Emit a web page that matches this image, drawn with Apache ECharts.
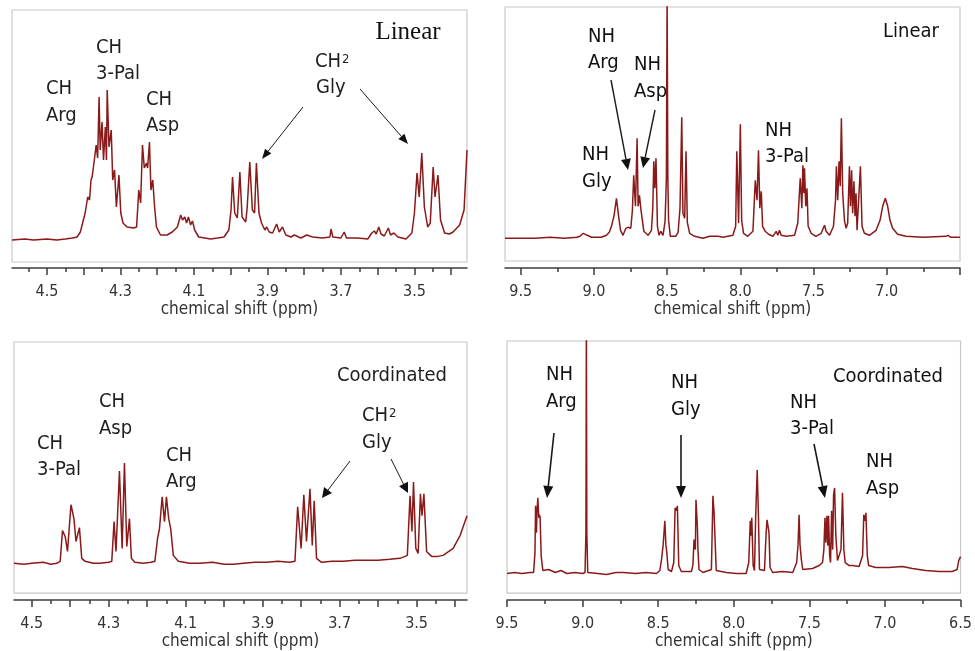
<!DOCTYPE html>
<html><head><meta charset="utf-8">
<script src="https://cdn.jsdelivr.net/npm/echarts@6/dist/echarts.min.js"></script>
<style>html,body{margin:0;padding:0;background:#fff}#c{width:975px;height:651px}</style>
</head><body><div id="c"></div>
<script>
// ---------- DATA (ppm, intensity) ----------
const linearCH = [[4.595,0],[4.560,1],[4.536,0],[4.500,1],[4.473,0],[4.450,1],[4.430,2],[4.418,3],[4.409,8],[4.396,27],[4.389,43],[4.384,40],[4.380,60],[4.377,63],[4.371,80],[4.366,95],[4.362,82],[4.358,143],[4.355,90],[4.350,118],[4.346,80],[4.341,113],[4.338,80],[4.336,150],[4.331,93],[4.325,110],[4.321,60],[4.316,70],[4.311,33],[4.304,65],[4.299,27],[4.293,17],[4.282,13],[4.264,12],[4.256,13],[4.250,50],[4.245,37],[4.240,95],[4.235,72],[4.229,77],[4.226,72],[4.221,98],[4.217,50],[4.212,60],[4.207,33],[4.202,13],[4.191,5],[4.173,5],[4.159,8],[4.145,13],[4.136,25],[4.131,20],[4.125,23],[4.120,17],[4.115,23],[4.109,15],[4.104,19],[4.098,10],[4.087,3],[4.070,2],[4.055,1],[4.035,2],[4.018,3],[4.005,10],[3.999,30],[3.995,63],[3.989,27],[3.982,22],[3.975,68],[3.969,23],[3.959,18],[3.955,33],[3.948,78],[3.941,30],[3.935,27],[3.930,77],[3.923,27],[3.916,17],[3.907,10],[3.902,13],[3.895,8],[3.886,7],[3.875,16],[3.868,8],[3.859,13],[3.850,5],[3.836,3],[3.827,5],[3.809,2],[3.793,5],[3.777,3],[3.750,2],[3.730,3],[3.727,11],[3.722,3],[3.700,2],[3.691,8],[3.685,2],[3.655,2],[3.627,1],[3.616,7],[3.609,9],[3.604,6],[3.597,13],[3.591,6],[3.582,4],[3.571,12],[3.565,5],[3.556,7],[3.545,3],[3.523,1],[3.507,7],[3.500,27],[3.493,67],[3.487,43],[3.480,87],[3.473,33],[3.464,13],[3.457,17],[3.449,73],[3.444,43],[3.436,65],[3.429,20],[3.418,7],[3.405,6],[3.395,8],[3.377,15],[3.365,30],[3.357,90]];

const linearNH = [[9.607,0],[9.40,0],[9.30,1],[9.20,0],[9.118,1],[9.095,2],[9.073,5],[9.045,3],[9.016,1],[8.95,1],[8.914,3],[8.895,6],[8.880,12],[8.862,23],[8.846,40],[8.832,23],[8.818,8],[8.801,3],[8.782,10],[8.775,8],[8.768,11],[8.760,12],[8.748,10],[8.737,28],[8.728,63],[8.716,32],[8.705,100],[8.698,32],[8.689,43],[8.678,28],[8.659,7],[8.630,3],[8.607,8],[8.598,30],[8.591,77],[8.584,50],[8.576,80],[8.566,12],[8.555,3],[8.543,7],[8.528,3],[8.514,17],[8.505,60],[8.500,245],[8.495,60],[8.490,18],[8.478,2],[8.441,2],[8.425,6],[8.412,30],[8.400,121],[8.392,25],[8.380,20],[8.371,87],[8.362,16],[8.346,5],[8.312,2],[8.255,0],[8.209,2],[8.152,2],[8.141,3],[8.118,1],[8.051,3],[8.032,12],[8.024,87],[8.012,15],[8.000,114],[7.991,18],[7.978,5],[7.949,2],[7.914,7],[7.898,58],[7.886,38],[7.876,88],[7.867,30],[7.857,47],[7.848,12],[7.830,7],[7.819,8],[7.807,4],[7.794,5],[7.778,2],[7.755,7],[7.744,3],[7.733,8],[7.721,3],[7.687,2],[7.630,3],[7.608,15],[7.591,60],[7.580,30],[7.573,73],[7.566,45],[7.562,70],[7.553,32],[7.545,50],[7.537,12],[7.516,5],[7.484,2],[7.448,5],[7.425,13],[7.414,7],[7.391,3],[7.364,12],[7.350,38],[7.344,72],[7.335,38],[7.326,77],[7.318,52],[7.310,120],[7.301,45],[7.289,18],[7.278,10],[7.267,15],[7.255,72],[7.248,32],[7.240,68],[7.233,25],[7.224,57],[7.217,22],[7.210,45],[7.203,8],[7.192,7],[7.180,72],[7.169,12],[7.153,5],[7.119,3],[7.073,8],[7.046,18],[7.028,32],[7.010,40],[6.994,32],[6.978,18],[6.960,10],[6.926,4],[6.869,2],[6.75,1],[6.596,2],[6.582,3],[6.562,1],[6.5,1]];

const coordCH = [[4.546,0],[4.52,-1],[4.50,0],[4.47,1],[4.45,-1],[4.435,0],[4.426,2],[4.420,33],[4.413,27],[4.407,12],[4.398,59],[4.394,52],[4.390,44],[4.385,22],[4.376,36],[4.370,5],[4.361,2],[4.34,0],[4.323,0],[4.30,1],[4.292,2],[4.286,42],[4.281,12],[4.272,93],[4.265,15],[4.259,101],[4.253,17],[4.246,45],[4.241,5],[4.232,1],[4.21,0],[4.19,1],[4.180,2],[4.173,25],[4.168,35],[4.161,67],[4.155,42],[4.150,67],[4.144,45],[4.139,35],[4.132,8],[4.119,2],[4.09,0],[4.063,0],[4.03,1],[4.00,-1],[3.976,-1],[3.95,0],[3.92,1],[3.890,1],[3.86,2],[3.83,1],[3.816,2],[3.809,57],[3.800,15],[3.793,69],[3.786,22],[3.777,75],[3.771,18],[3.766,63],[3.760,5],[3.747,1],[3.72,2],[3.69,2],[3.66,3],[3.630,3],[3.60,3],[3.57,4],[3.543,5],[3.530,7],[3.524,8],[3.517,68],[3.512,32],[3.508,82],[3.502,15],[3.496,10],[3.490,70],[3.486,48],[3.481,70],[3.474,12],[3.461,7],[3.445,7],[3.431,8],[3.405,15],[3.387,28],[3.369,48]];

const coordNH = [[9.5,-1],[9.45,0],[9.40,-1],[9.35,0],[9.324,0],[9.315,20],[9.311,67],[9.305,40],[9.302,60],[9.296,75],[9.290,55],[9.285,58],[9.281,55],[9.274,17],[9.263,2],[9.225,3],[9.214,1],[9.18,0],[9.144,2],[9.104,-1],[9.05,0],[9.00,-1],[8.984,0],[8.978,40],[8.975,255],[8.972,40],[8.966,0],[8.90,-1],[8.841,-2],[8.78,0],[8.731,0],[8.65,-1],[8.58,0],[8.511,-1],[8.489,2],[8.478,13],[8.467,28],[8.456,52],[8.449,28],[8.443,20],[8.434,3],[8.412,1],[8.397,10],[8.388,65],[8.379,62],[8.373,67],[8.364,7],[8.347,1],[8.280,1],[8.270,8],[8.263,33],[8.254,23],[8.250,73],[8.241,47],[8.237,23],[8.230,3],[8.204,0],[8.148,3],[8.138,77],[8.131,62],[8.125,63],[8.116,2],[8.050,0],[7.98,-1],[7.918,-1],[7.901,10],[7.891,52],[7.885,37],[7.881,55],[7.872,7],[7.863,2],[7.855,57],[7.845,103],[7.837,57],[7.830,3],[7.797,2],[7.786,40],[7.780,53],[7.773,55],[7.767,40],[7.760,5],[7.743,0],[7.68,1],[7.610,0],[7.584,10],[7.575,28],[7.568,58],[7.562,28],[7.553,13],[7.544,3],[7.479,4],[7.435,7],[7.413,10],[7.404,23],[7.397,55],[7.391,30],[7.384,57],[7.378,27],[7.373,57],[7.366,17],[7.360,10],[7.353,62],[7.346,23],[7.340,78],[7.333,85],[7.325,37],[7.314,12],[7.302,10],[7.291,23],[7.281,80],[7.272,23],[7.263,10],[7.237,7],[7.215,7],[7.171,6],[7.159,7],[7.148,17],[7.140,58],[7.133,52],[7.126,60],[7.117,17],[7.108,7],[7.061,5],[6.973,5],[6.885,6],[6.819,4],[6.731,2],[6.643,1],[6.556,1],[6.523,3],[6.512,12],[6.5,16]];

// ---------- TICKS ----------
const ticksMajorCH = [4.5,4.4,4.3,4.2,4.1,4.0,3.9,3.8,3.7,3.6,3.5,3.4];
const ticksMinorCH = [4.55,4.45,4.35,4.25,4.15,4.05,3.95,3.85,3.75,3.65,3.55,3.45];
const labelsCH = [4.5,4.3,4.1,3.9,3.7,3.5];
const ticksMajorNH = [9.5,9.0,8.5,8.0,7.5,7.0,6.5];
const ticksMinorNH = [9.25,8.75,8.25,7.75,7.25,6.75];
const labelsNHLinear = [9.5,9.0,8.5,8.0,7.5,7.0];
const labelsNHCoord = [9.5,9.0,8.5,8.0,7.5,7.0,6.5];

const FONT = "'DejaVu Sans Condensed','DejaVu Sans',sans-serif";
const LINE = '#8a1a1a';
const AX = '#3c3c3c';

// panel layout: grid rect + axis range + y range
const panels = [
  {grid:{left:12,top:10,width:455,height:252}, min:3.357, max:4.595, ymin:-22, ymax:230, major:ticksMajorCH, minor:ticksMinorCH, labels:labelsCH, data:linearCH, offset:6},
  {grid:{left:505,top:7,width:455,height:254}, min:6.5, max:9.607, ymin:-22.7, ymax:231.3, major:ticksMajorNH, minor:ticksMinorNH, labels:labelsNHLinear, data:linearNH, offset:7},
  {grid:{left:14,top:342,width:453,height:253}, min:3.369, max:4.546, ymin:-30, ymax:223, major:ticksMajorCH, minor:ticksMinorCH, labels:labelsCH, data:coordCH, offset:7},
  {grid:{left:507,top:341,width:455,height:253}, min:6.5, max:9.5, ymin:-20.7, ymax:232.6, major:ticksMajorNH, minor:ticksMinorNH, labels:labelsNHCoord, data:coordNH, offset:7}
];

const grids = [], xAxes = [], yAxes = [], series = [];
panels.forEach((p, i) => {
  const inR = v => v >= p.min - 1e-9 && v <= p.max + 1e-9;
  grids.push(Object.assign({show:true, borderColor:'#c8c8c8', borderWidth:1.2, backgroundColor:'#fff'}, p.grid));
  xAxes.push({
    type:'value', gridIndex:i, inverse:true, min:p.min, max:p.max, position:'bottom', offset:p.offset,
    axisLine:{show:true, onZero:false, lineStyle:{color:AX, width:1.5}},
    axisTick:{show:true, customValues:p.major.filter(inR), length:7, lineStyle:{color:AX, width:1.5}},
    axisLabel:{customValues:p.labels.filter(inR), formatter:v=>Number(v).toFixed(1), margin:16, fontSize:16, color:'#333', fontFamily:FONT},
    splitLine:{show:false},
    name:'chemical shift (ppm)', nameLocation:'middle', nameGap:31,
    nameTextStyle:{fontSize:17, color:'#333', fontFamily:FONT}
  });
  xAxes.push({
    type:'value', gridIndex:i, inverse:true, min:p.min, max:p.max, position:'bottom', offset:p.offset,
    axisLine:{show:false, onZero:false},
    axisTick:{show:true, customValues:p.minor.filter(inR), length:4, lineStyle:{color:AX, width:1.5}},
    axisLabel:{show:false}, splitLine:{show:false}
  });
  yAxes.push({type:'value', gridIndex:i, min:p.ymin, max:p.ymax, show:false});
  series.push({type:'line', xAxisIndex:2*i, yAxisIndex:i, data:p.data, showSymbol:false, clip:true,
    lineStyle:{color:LINE, width:1.5}, silent:true});
});

// ---------- ANNOTATIONS ----------
const g = [];
function txt(x, y, s, size, color, family, align) {
  g.push({type:'text', x:x, y:y, silent:true, z:100,
    style:{text:s, fontSize:size||20, fontFamily:family||FONT, fill:color||'#1e1e1e', verticalAlign:'middle', align:align||'left'}});
}
function arrow(x1, y1, x2, y2, w, L, W) {
  const dx = x2-x1, dy = y2-y1, len = Math.hypot(dx, dy), ux = dx/len, uy = dy/len;
  const bx = x2-ux*L, by = y2-uy*L;
  g.push({type:'line', silent:true, z:100, shape:{x1:x1,y1:y1,x2:bx,y2:by}, style:{stroke:'#1a1a1a', lineWidth:w}});
  g.push({type:'polygon', silent:true, z:100, shape:{points:[[x2,y2],[bx-uy*W,by+ux*W],[bx+uy*W,by-ux*W]]}, style:{fill:'#111'}});
}
// Panel 1
txt(46,89,'CH'); txt(46,116,'Arg');
txt(96,48,'CH'); txt(96,74,'3-Pal');
txt(146,100,'CH'); txt(146,126,'Asp');
txt(315,62,'CH'); txt(342,60,'2',13); txt(316,88,'Gly');
txt(408,32,'Linear',25,'#111',"'Liberation Serif','DejaVu Serif',serif",'center');
arrow(303,107,262,159,1,10,4);
arrow(360,89,408,144,1,10,4);
// Panel 2
txt(588,37,'NH',20,'#111'); txt(588,63,'Arg',20,'#111');
txt(634,65,'NH',20,'#111'); txt(634,92,'Asp',20,'#111');
txt(582,155,'NH',20,'#111'); txt(582,182,'Gly',20,'#111');
txt(765,131,'NH',20,'#111'); txt(765,157,'3-Pal',20,'#111');
txt(883,32,'Linear',20,'#111');
arrow(611,80,628,170,1.4,11,5);
arrow(655,110,643,168,1.4,11,5);
// Panel 3
txt(37,444,'CH'); txt(37,470,'3-Pal');
txt(99,402,'CH'); txt(99,429,'Asp');
txt(166,456,'CH'); txt(166,482,'Arg');
txt(362,416,'CH'); txt(389,414,'2',13); txt(362,443,'Gly');
txt(337,376,'Coordinated');
arrow(350,461,322,498,1,10,5);
arrow(391,459,408,493,1,10,5);
// Panel 4
txt(546,375,'NH',20,'#111'); txt(546,402,'Arg',20,'#111');
txt(671,383,'NH',20,'#111'); txt(671,410,'Gly',20,'#111');
txt(790,403,'NH',20,'#111'); txt(790,429,'3-Pal',20,'#111');
txt(866,462,'NH',20,'#111'); txt(866,489,'Asp',20,'#111');
txt(833,377,'Coordinated',20,'#111');
arrow(554,433,547,498,1.6,12,5);
arrow(681,435,681,498,1.6,12,5);
arrow(814,444,825,498,1.6,12,5);

const chart = echarts.init(document.getElementById('c'), null, {renderer:'canvas'});
chart.setOption({
  animation:false,
  backgroundColor:'#fff',
  grid:grids, xAxis:xAxes, yAxis:yAxes, series:series,
  graphic:g
});
</script></body></html>
